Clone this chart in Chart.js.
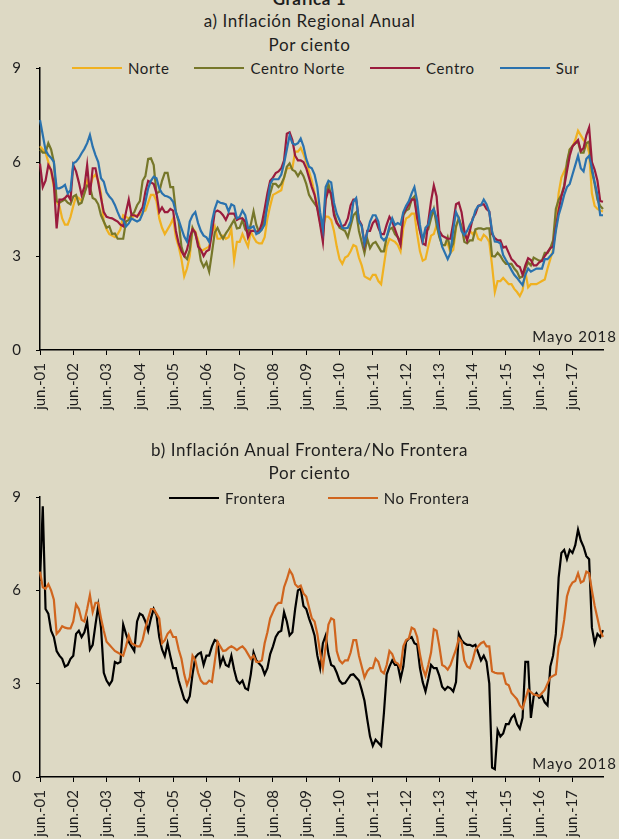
<!DOCTYPE html>
<html>
<head>
<meta charset="utf-8">
<script src="https://cdn.jsdelivr.net/npm/chart.js@4.4.0/dist/chart.umd.min.js"></script>
<style>
  html, body { margin: 0; padding: 0; background: #DDD9C4; overflow: hidden; }
  body { width: 619px; height: 839px; position: relative; font-family: Lato, sans-serif; color: #1e1e1e; }
  .title { position: absolute; left: 0; width: 619px; text-align: center; font-size: 17px; line-height: 20px; letter-spacing: 0.6px; white-space: nowrap; }
  .legend { position: absolute; display: flex; font-size: 15px; line-height: 18px; letter-spacing: 0.6px; white-space: nowrap; }
  .legend span { display: flex; align-items: center; }
  .legend i { display: inline-block; width: 50px; height: 2px; margin-right: 6px; }
  .box { position: absolute; left: 0; width: 619px; }
</style>
</head>
<body>
<div class="title" style="top:-11px;font-weight:bold">Gráfica 1</div>
<div class="title" style="top:11px">a) Inflación Regional Anual</div>
<div class="title" style="top:35px">Por ciento</div>
<div class="legend" id="legendA" style="top:59px;left:72px;gap:25px"></div>
<div class="box" style="top:44px;height:396px"><canvas id="chartA" width="619" height="396"></canvas></div>

<div class="title" style="top:440px">b) Inflación Anual Frontera/No Frontera</div>
<div class="title" style="top:463px">Por ciento</div>
<div class="legend" id="legendB" style="top:489px;left:169px;gap:42px"></div>
<div class="box" style="top:473px;height:416px"><canvas id="chartB" width="619" height="416"></canvas></div>

<script>
// monthly series, jun.-01 to may.-18 (one row per jun..may year)
const monthNames = ['jun.', 'jul.', 'ago.', 'sep.', 'oct.', 'nov.', 'dic.', 'ene.', 'feb.', 'mar.', 'abr.', 'may.'];
const yearTags = ['01', '02', '03', '04', '05', '06', '07', '08', '09', '10', '11', '12', '13', '14', '15', '16', '17', '18'];
const noteText = 'Mayo 2018';

const norte = [
  6.5, 6.4, 6.3, 6.0, 5.7, 5.2, 4.73, 4.6, 4.2, 4.0, 4.0, 4.25,
  4.6, 4.9, 4.85, 4.75, 5.0, 5.4, 5.2, 5.5, 5.6, 5.4, 5.0, 4.1,
  3.85, 3.7, 3.65, 3.6, 3.7, 3.85, 4.3, 4.25, 4.2, 4.2, 4.3, 4.3,
  4.3, 4.4, 4.45, 4.7, 4.95, 4.95, 4.75, 4.2, 3.9, 3.7, 3.85, 4.0,
  4.2, 3.6, 3.3, 2.9, 2.35, 2.6, 3.0, 3.88, 3.78, 3.5, 3.15, 3.2,
  3.25, 3.3, 3.75, 3.95, 3.55, 3.55, 3.65, 3.55, 3.6, 3.85, 2.87, 3.45,
  3.45, 3.7, 3.5, 3.3, 3.78, 3.6, 3.45, 3.4, 3.4, 3.6, 4.2, 4.6,
  4.95, 5.0, 5.05, 5.1, 5.5, 5.8, 5.8, 5.8, 6.33, 6.33, 6.45, 6.25,
  6.0, 5.7, 5.4, 5.0, 4.63, 4.2, 3.9, 4.26, 4.25, 4.15, 3.8, 3.3,
  2.9, 2.75, 2.95, 3.0, 3.15, 3.35, 3.3, 2.95, 2.7, 2.35, 2.3, 2.25,
  2.4, 2.4, 2.2, 2.1, 2.7, 3.3, 3.55, 3.5, 3.45, 3.35, 3.15, 3.9,
  4.2, 4.25, 4.35, 4.35, 3.7, 3.15, 2.85, 2.9, 3.3, 3.65, 3.7, 3.99,
  3.65, 3.35, 3.35, 3.4, 3.1, 3.2, 3.9, 4.2, 3.9, 3.6, 3.57, 3.8,
  3.7, 3.8, 3.55, 3.5, 3.68, 3.6, 3.45, 2.7, 1.85, 2.2, 2.2, 2.3,
  2.2, 2.1, 2.1, 1.95, 1.85, 1.72, 1.9, 2.5, 2.0, 2.1, 2.1, 2.1,
  2.15, 2.2, 2.25, 2.6, 2.9, 3.2, 4.0, 5.0, 5.5, 5.7, 5.9, 6.4,
  6.5, 6.7, 7.0, 6.85, 6.7, 6.6, 6.3, 5.0, 4.6, 4.5, 4.45, 4.42
];

const centroNorte = [
  6.4, 6.3, 6.3, 6.6, 6.4, 6.0, 4.75, 4.7, 4.75, 4.8, 4.7, 4.65,
  4.9, 4.95, 4.65, 4.7, 5.0, 5.25, 5.2, 4.85, 4.8, 4.65, 4.3, 4.1,
  3.9, 3.95, 3.7, 3.72, 3.55, 3.55, 3.55, 4.1, 4.15, 4.3, 4.4, 4.62,
  4.75, 5.4, 5.55, 6.1, 6.12, 5.9, 5.0, 5.05, 5.4, 5.65, 5.65, 5.2,
  5.2, 4.4, 4.1, 3.3, 3.0, 2.9, 3.2, 3.9, 3.7, 3.4, 2.85, 2.65,
  2.8, 2.5, 3.1, 3.75, 3.9, 3.7, 3.55, 3.72, 3.85, 4.0, 4.15, 3.88,
  3.9, 4.15, 3.85, 3.75, 4.0, 4.42, 3.99, 3.75, 3.85, 4.2, 4.6, 5.0,
  5.3, 5.3, 5.2, 5.3, 5.5, 5.85, 5.96, 5.75, 5.7, 5.55, 5.7, 5.55,
  5.3, 4.95, 4.8, 4.67, 4.55, 4.1, 3.6, 4.9, 5.3, 4.9, 4.4, 4.1,
  3.9, 3.85, 3.8, 3.6, 3.95, 4.3, 4.4, 3.8, 3.45, 3.1, 3.55, 3.25,
  3.4, 3.45, 3.3, 3.15, 3.15, 3.6, 3.85, 3.9, 3.7, 3.6, 3.45, 4.3,
  4.45, 4.5, 4.8, 4.9, 4.3, 3.8, 3.5, 3.8, 3.85, 4.2, 4.5, 4.0,
  3.6, 3.35, 3.35, 3.6, 3.2, 3.4, 3.95, 4.2, 3.95, 3.45, 3.4, 3.5,
  3.5, 3.85, 3.88, 3.88, 3.85, 3.88, 3.88, 3.0, 2.98, 3.1, 3.0, 2.85,
  2.75, 2.75, 2.75, 2.6, 2.5, 2.3, 2.35, 2.6, 2.8, 2.7, 2.95, 2.9,
  2.85, 2.85, 3.1, 3.1, 3.25, 3.5, 4.5, 4.8, 4.95, 5.25, 6.0, 6.4,
  6.5, 6.6, 6.65, 6.3, 6.3, 6.6, 6.65, 5.7, 5.3, 4.8, 4.6, 4.5
];

const centro = [
  5.95, 5.2, 5.4, 5.9, 5.75, 5.3, 3.88, 4.8, 4.8, 4.85, 4.95, 4.8,
  5.9, 5.7, 5.35, 4.95, 5.2, 5.9, 4.95, 5.8, 5.8, 5.35, 4.85, 4.4,
  4.25, 4.22, 4.2, 4.15, 4.1, 4.0, 3.95, 4.4, 4.8, 4.3, 4.3, 4.25,
  4.4, 4.55, 5.05, 5.4, 5.35, 5.3, 5.0, 4.4, 4.55, 4.4, 4.4, 4.5,
  4.45, 3.8, 3.4, 3.15, 3.0, 3.2, 3.6, 3.85, 3.75, 3.3, 3.2, 3.0,
  3.15, 3.2, 3.75, 4.4, 4.45, 4.4, 4.3, 4.15, 4.35, 4.35, 4.35, 4.15,
  4.2, 4.2, 4.1, 3.6, 3.8, 3.8, 3.78, 3.78, 4.05, 4.5, 5.0, 5.4,
  5.5, 5.65, 5.7, 5.8, 6.05, 6.9, 6.95, 6.7, 6.2, 6.05, 6.05, 6.0,
  5.8, 5.5, 5.2, 4.95, 4.5, 4.0, 3.45, 4.8, 5.1, 5.0, 4.3, 4.05,
  3.95, 3.95, 4.0, 4.2, 4.62, 4.8, 4.8, 4.15, 3.99, 3.35, 3.8, 3.8,
  4.05, 4.15, 3.9, 3.7, 3.7, 4.0, 4.25, 4.1, 3.85, 3.6, 3.35, 4.35,
  4.5, 4.65, 4.8, 4.8, 4.2, 3.8, 3.4, 3.35, 4.1, 4.75, 5.25, 4.9,
  3.8, 3.65, 3.6, 3.55, 3.55, 4.05, 4.65, 4.7, 4.4, 3.8, 3.5, 3.8,
  4.2, 4.35, 4.6, 4.63, 4.65, 4.5, 4.42, 3.7, 3.57, 3.5, 3.5, 3.27,
  3.3, 3.1, 2.9, 2.82, 2.7, 2.65, 2.4, 2.7, 2.93, 2.87, 2.7, 2.7,
  2.8, 2.85, 3.0, 3.12, 3.25, 3.3, 3.9, 4.45, 4.9, 5.2, 5.7, 6.2,
  6.5, 6.6, 6.7, 6.35, 6.45, 6.85, 7.1, 6.0, 5.75, 5.4, 4.75, 4.73
];

const sur = [
  7.34, 6.86, 6.38, 6.22, 6.13, 6.0, 5.16, 5.16, 5.2, 5.27, 5.0, 5.1,
  5.96, 6.01, 6.12, 6.28, 6.42, 6.6, 6.86, 6.49, 6.22, 6.0, 5.48, 5.37,
  5.03, 4.9, 4.8, 4.63, 4.4, 4.2, 4.15, 3.94, 4.04, 4.2, 4.15, 4.1,
  4.15, 4.36, 4.73, 5.16, 5.4, 5.53, 5.48, 5.16, 5.0, 4.92, 4.9, 4.85,
  4.73, 4.4, 4.15, 3.88, 3.62, 3.46, 4.1, 4.3, 4.4, 4.05, 3.8, 3.65,
  3.6, 3.45, 4.1, 4.5, 4.75, 4.7, 4.68, 4.65, 4.42, 4.65, 4.6, 4.2,
  4.25, 4.45, 4.3, 3.9, 3.9, 3.95, 3.7, 3.75, 3.85, 4.0, 4.7, 5.3,
  5.45, 5.45, 5.45, 5.6, 5.95, 6.4, 6.85, 6.6, 6.55, 6.6, 6.75, 6.5,
  6.1, 5.85, 5.8, 5.6, 5.2, 4.4, 3.85, 5.2, 5.4, 5.35, 4.7, 4.35,
  4.15, 3.9, 3.88, 3.9, 4.1, 4.73, 4.85, 4.1, 3.95, 3.4, 3.75, 4.1,
  4.3, 4.3, 4.1, 3.6, 3.5, 3.6, 3.95, 4.2, 3.99, 4.05, 4.0, 4.4,
  4.6, 4.75, 5.0, 5.2, 4.75, 3.99, 3.5, 3.9, 4.0, 4.4, 4.5, 4.2,
  3.7, 3.3, 3.1, 2.9, 3.1, 3.85, 4.4, 4.2, 3.8, 3.67, 3.8, 4.0,
  4.15, 4.45, 4.6, 4.62, 4.8, 4.65, 4.4, 3.8, 3.46, 3.45, 3.4, 3.03,
  2.87, 2.72, 2.55, 2.4, 2.3, 2.18, 2.07, 2.4, 2.6, 2.5, 2.55, 2.6,
  2.6, 2.6, 2.9, 2.9, 3.0, 3.1, 3.8, 4.3, 4.6, 4.95, 5.2, 5.3,
  5.6, 5.9, 6.2, 5.8, 5.7, 6.1, 6.2, 5.8, 5.35, 4.95, 4.3, 4.3
];

const frontera = [
  6.3, 8.7, 5.4, 5.25, 4.7, 4.5, 4.05, 3.9, 3.8, 3.55, 3.6, 3.8,
  3.9, 4.6, 4.7, 4.5, 4.65, 5.0, 4.1, 4.25, 4.9, 5.5, 4.8, 3.35,
  3.1, 2.96, 3.1, 3.7, 3.65, 3.7, 4.9, 4.6, 4.35, 4.2, 4.05, 5.0,
  5.25, 5.2, 5.0, 4.7, 5.1, 5.4, 5.2, 4.5, 4.1, 3.88, 4.3, 3.88,
  3.5, 3.5, 3.1, 2.8, 2.5, 2.4, 2.6, 3.3, 3.85, 3.95, 4.0, 3.6,
  3.9, 3.9, 4.2, 4.4, 4.35, 3.6, 3.85, 3.6, 3.55, 3.9, 3.45, 3.1,
  3.0, 3.1, 2.85, 2.8, 3.3, 4.0, 3.75, 3.65, 3.55, 3.3, 3.5, 3.95,
  4.2, 4.5, 4.65, 4.7, 5.3, 5.0, 4.55, 4.65, 5.4, 6.0, 6.05, 5.5,
  5.4, 5.1, 4.85, 4.55, 3.9, 3.5, 4.3, 4.55, 3.95, 3.6, 3.55, 3.35,
  3.1, 3.0, 3.02, 3.15, 3.28, 3.3, 3.2, 3.1, 2.8, 2.45, 1.85, 1.3,
  1.0, 1.2, 1.1, 1.0, 2.05, 3.3, 3.55, 3.75, 3.6, 3.6, 3.15, 3.55,
  4.35, 4.45, 4.5, 4.3, 4.25, 3.5, 3.05, 2.75, 3.15, 3.6, 3.5, 3.5,
  3.25, 2.9, 2.8, 2.9, 2.85, 2.75, 3.05, 4.6, 4.4, 4.3, 4.25, 4.25,
  4.2, 4.25, 4.0, 3.75, 3.9, 3.7, 3.0, 0.3, 0.25, 1.5, 1.3, 1.4,
  1.7, 1.7, 1.9, 2.0, 1.7, 1.55, 1.9, 3.7, 3.7, 1.9, 2.6, 2.7,
  2.55, 2.6, 2.4, 2.3, 3.55, 3.9, 4.6, 6.4, 7.2, 7.3, 7.0, 7.3,
  7.2, 7.45, 7.95, 7.6, 7.4, 7.1, 7.0, 4.8, 4.3, 4.6, 4.5, 4.72
];

const noFrontera = [
  6.6, 6.1, 6.05, 6.2, 6.0, 5.7, 4.6, 4.7, 4.85, 4.8, 4.78, 4.78,
  5.0, 5.55, 5.4, 5.05, 5.0, 5.4, 5.85, 5.3, 5.6, 5.6, 5.1, 4.7,
  4.35, 4.25, 4.15, 4.05, 4.0, 3.95, 3.9, 4.2, 4.55, 4.3, 4.25, 4.2,
  4.2, 4.4, 4.8, 5.1, 5.4, 5.4, 5.25, 5.1, 4.3, 4.4, 4.6, 4.7,
  4.5, 4.5, 4.1, 3.8, 3.3, 2.96, 3.2, 3.9, 3.75, 3.35, 3.1, 3.0,
  3.0, 3.1, 3.05, 3.7, 4.35, 4.2, 4.05, 4.07, 4.15, 4.2, 4.15, 4.08,
  4.15, 4.2, 4.1, 3.95, 3.8, 3.9, 3.7, 3.7, 3.75, 4.3, 4.65, 5.1,
  5.3, 5.5, 5.6, 5.6, 6.1, 6.35, 6.65, 6.5, 6.2, 6.1, 6.15, 5.9,
  5.8, 5.45, 5.1, 5.0, 4.6, 4.0, 3.5, 4.2, 4.9, 5.1, 5.05, 4.05,
  3.75, 3.65, 3.75, 3.75, 4.0, 4.4, 4.4, 3.9, 3.55, 3.2, 3.4, 3.5,
  3.5, 3.8, 3.7, 3.4, 3.33, 3.6, 4.05, 3.95, 3.7, 3.65, 3.5, 4.2,
  4.4, 4.45, 4.8, 4.75, 4.5, 3.95, 3.5, 3.25, 3.6, 4.0, 4.75, 4.7,
  4.2, 3.6, 3.55, 3.45, 3.6, 3.85, 4.1, 4.45, 4.35, 3.75, 3.55, 3.5,
  3.75, 4.1, 4.2, 4.3, 4.35, 4.2, 4.2, 3.4, 3.35, 3.33, 3.33, 3.33,
  3.0, 2.95, 2.7, 2.6, 2.5, 2.3, 2.2, 2.5, 2.8, 2.73, 2.65, 2.63,
  2.6, 2.7, 2.8, 3.0, 3.2, 3.25, 3.3, 4.2, 4.5, 5.05, 5.8, 6.1,
  6.25, 6.3, 6.55, 6.25, 6.3, 6.6, 6.55, 6.0, 5.5, 5.1, 4.7, 4.5
];

// "jun.-01", "jul.-01", ... up to "may.-18"
const categories = [];
for (let y = 0; y < yearTags.length - 1; y++) {
  monthNames.forEach((m, i) => {
    const tag = i < 7 ? yearTags[y] : yearTags[y + 1];
    categories.push(m + '-' + tag);
  });
}

const textColor = '#1e1e1e';
const tickFont = { family: 'Lato, sans-serif', size: 15 };

// small caption in the lower right corner of the plot
const notePlugin = {
  id: 'note',
  afterDraw(chart) {
    const { ctx, chartArea } = chart;
    ctx.save();
    ctx.font = '15px Lato, sans-serif';
    ctx.letterSpacing = '1px';
    ctx.fillStyle = textColor;
    ctx.textAlign = 'right';
    ctx.textBaseline = 'middle';
    ctx.fillText(noteText, 617, chartArea.bottom - 13);
    ctx.restore();
  }
};

function makeChart(id, datasets, axisHeight) {
  return new Chart(document.getElementById(id), {
    type: 'line',
    data: { labels: categories, datasets: datasets },
    options: {
      responsive: false,
      animation: false,
      layout: { padding: { top: 8, right: 16, bottom: 0, left: 0 } },
      elements: { point: { radius: 0 }, line: { borderWidth: 2.2, tension: 0 } },
      plugins: { legend: { display: false }, tooltip: { enabled: false } },
      scales: {
        x: {
          offset: false,
          grid: { drawOnChartArea: false, tickLength: 5, color: '#000', lineWidth: 1 },
          border: { color: '#000', width: 1.5 },
          ticks: { autoSkip: false, minRotation: 90, maxRotation: 90, padding: 8, font: tickFont, color: textColor },
          // one labelled tick per June
          afterBuildTicks: (scale) => { scale.ticks = scale.ticks.filter(t => t.value % 12 === 0); },
          afterFit: (scale) => { scale.height = axisHeight; }
        },
        y: {
          min: 0,
          max: 9,
          grid: { drawOnChartArea: false, tickLength: 4, color: '#000', lineWidth: 1 },
          border: { color: '#000', width: 1.5 },
          ticks: { stepSize: 3, padding: 15, font: tickFont, color: textColor },
          afterFit: (scale) => { scale.width = 40; }
        }
      }
    },
    plugins: [notePlugin]
  });
}

function fillLegend(chart, id) {
  const box = document.getElementById(id);
  chart.data.datasets.forEach(ds => {
    const item = document.createElement('span');
    const line = document.createElement('i');
    line.style.background = ds.borderColor;
    item.appendChild(line);
    item.appendChild(document.createTextNode(ds.label));
    box.appendChild(item);
  });
}

const chartA = makeChart('chartA', [
  { label: 'Norte', data: norte, borderColor: '#F0B120', order: 4 },
  { label: 'Centro Norte', data: centroNorte, borderColor: '#76772A', order: 3 },
  { label: 'Centro', data: centro, borderColor: '#9A1B3D', order: 2 },
  { label: 'Sur', data: sur, borderColor: '#2A72AE', order: 1 }
], 90);

const chartB = makeChart('chartB', [
  { label: 'Frontera', data: frontera, borderColor: '#000000', order: 2 },
  { label: 'No Frontera', data: noFrontera, borderColor: '#D0651E', order: 1 }
], 112);

fillLegend(chartA, 'legendA');
fillLegend(chartB, 'legendB');
</script>
</body>
</html>
